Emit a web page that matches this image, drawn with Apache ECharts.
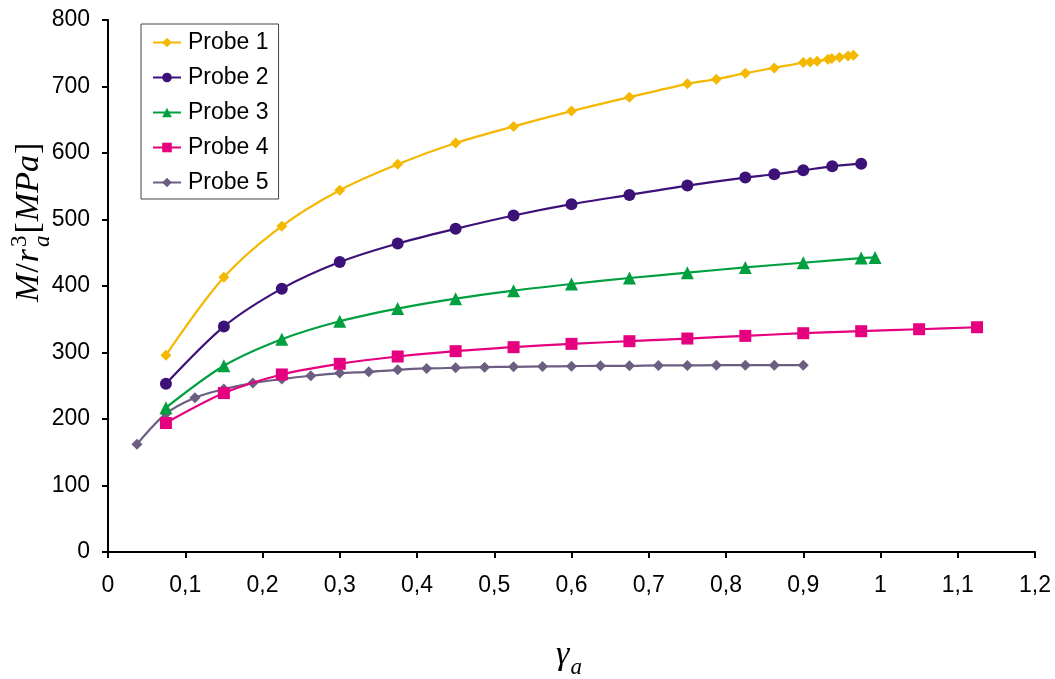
<!DOCTYPE html>
<html>
<head>
<meta charset="utf-8">
<script src="https://cdn.jsdelivr.net/npm/echarts@6/dist/echarts.min.js"></script>
<style>html,body{margin:0;padding:0;background:#fff}#c{width:1055px;height:679px}</style>
</head>
<body>
<div id="c"></div>
<script>
// Data
const seriesNames = ['Probe 1', 'Probe 2', 'Probe 3', 'Probe 4', 'Probe 5'];
const probe1X = [0.075, 0.15, 0.225, 0.3, 0.375, 0.45, 0.525, 0.6, 0.675, 0.75, 0.7875, 0.825, 0.8625, 0.9, 0.909, 0.918, 0.932, 0.937, 0.947, 0.958, 0.965];
const probe1Y = [296, 413, 490, 544, 583, 615, 640, 663, 684, 704, 711, 720, 728, 736, 737, 738, 741, 742, 744, 746, 747];
const probe2X = [0.075, 0.15, 0.225, 0.3, 0.375, 0.45, 0.525, 0.6, 0.675, 0.75, 0.825, 0.8625, 0.9, 0.9375, 0.975];
const probe2Y = [253, 339, 396, 436, 464, 486, 506, 523, 537, 551, 563, 568, 574, 580, 584];
const probe3X = [0.075, 0.15, 0.225, 0.3, 0.375, 0.45, 0.525, 0.6, 0.675, 0.75, 0.825, 0.9, 0.975, 0.993];
const probe3Y = [217, 280, 320, 347, 366, 381, 393, 403, 412, 420, 428, 435, 442, 443];
const probe4X = [0.075, 0.15, 0.225, 0.3, 0.375, 0.45, 0.525, 0.6, 0.675, 0.75, 0.825, 0.9, 0.975, 1.05, 1.125];
const probe4Y = [194, 239, 267, 283, 294, 302, 308, 313, 317, 321, 325, 329, 332, 335, 338];
const probe5X = [0.0375, 0.075, 0.1125, 0.15, 0.1875, 0.225, 0.2625, 0.3, 0.3375, 0.375, 0.4125, 0.45, 0.4875, 0.525, 0.5625, 0.6, 0.6375, 0.675, 0.7125, 0.75, 0.7875, 0.825, 0.8625, 0.9];
const probe5Y = [162, 208, 232, 245, 254, 260, 265, 269, 271, 274, 276, 277, 278, 278.5, 279, 279.5, 280, 280, 280.5, 280.5, 281, 281, 281, 281];
const xTicks = { min: 0, max: 1.2, interval: 0.1 };
const yTicks = { min: 0, max: 800, interval: 100 };

const colors = ['#F5B800', '#3D1278', '#00A040', '#E4007F', '#6B5E80'];
const symbols = ['diamond', 'circle', 'triangle', 'rect', 'diamond'];
const symbolSizes = [11, 12, 13, 12, 11];
const xs = [probe1X, probe2X, probe3X, probe4X, probe5X];
const ys = [probe1Y, probe2Y, probe3Y, probe4Y, probe5Y];

const chart = echarts.init(document.getElementById('c'), null, { renderer: 'canvas' });
const font = '"Liberation Sans", Arial, sans-serif';
const fmt = v => String(+(+v).toFixed(1)).replace('.', ',');

// text measurement helper for composing math-style labels
const mctx = document.createElement('canvas').getContext('2d');
function tw(text, f) { mctx.font = f; return mctx.measureText(text).width; }
const serifI = 'italic 34px "Liberation Serif", "DejaVu Serif", serif';
const serifR = '34px "Liberation Serif", "DejaVu Serif", serif';
const smallI = 'italic 23px "Liberation Serif", serif';
const smallR = '23px "Liberation Serif", serif';

function buildPieces(parts) {
  let x = 0; const out = [];
  parts.forEach(p => {
    out.push({ type: 'text', x: x + (p.dx || 0), y: p.dy || 0, style: { text: p.t, font: p.f, fill: '#000', textVerticalAlign: 'bottom' } });
    if (p.adv !== false) x += tw(p.t, p.f) + (p.gap || 0);
  });
  return out;
}
const yNameParts = [
  { t: 'M', f: serifI, gap: 1 },
  { t: '/', f: serifR, gap: 1 },
  { t: 'r', f: serifI, gap: 2 },
  { t: '3', f: smallR, dy: -15, adv: false },
  { t: 'a', f: smallI, dy: 8, gap: 2 },
  { t: '[', f: serifR, gap: 1 },
  { t: 'MPa', f: serifI, gap: 1 },
  { t: ']', f: serifR }
];
const xNameParts = [
  { t: 'γ', f: serifI, gap: 1 },
  { t: 'a', f: smallI, dy: 7 }
];

const option = {
  animation: false,
  backgroundColor: '#fff',
  grid: { left: 108, right: 20, top: 20, bottom: 127, containLabel: false },
  legend: {
    orient: 'vertical', left: 141, top: 24,
    data: seriesNames,
    borderColor: '#444', borderWidth: 1,
    padding: [7, 10, 5, 11],
    itemGap: 12, itemWidth: 28, itemHeight: 12,
    textStyle: { fontFamily: font, fontSize: 23, color: '#000', padding: [0, 0, 0, 2] }
  },
  xAxis: {
    type: 'value', min: xTicks.min, max: xTicks.max, interval: xTicks.interval,
    axisLine: { show: true, onZero: false, lineStyle: { color: '#000', width: 2 } },
    axisTick: { show: true, inside: false, length: 6, lineStyle: { color: '#000', width: 2 } },
    axisLabel: { formatter: fmt, color: '#000', fontFamily: font, fontSize: 23, margin: 22 },
    splitLine: { show: false }
  },
  yAxis: {
    type: 'value', min: yTicks.min, max: yTicks.max, interval: yTicks.interval,
    axisLine: { show: true, lineStyle: { color: '#000', width: 2 } },
    axisTick: { show: true, inside: false, length: 6, lineStyle: { color: '#000', width: 2 } },
    axisLabel: { color: '#000', fontFamily: font, fontSize: 23, margin: 18 },
    splitLine: { show: false }
  },
  series: seriesNames.map((n, i) => ({
    name: n, type: 'line', smooth: 0.3,
    data: xs[i].map((x, j) => [x, ys[i][j]]),
    symbol: symbols[i], symbolSize: symbolSizes[i], showSymbol: true,
    itemStyle: { color: colors[i] },
    lineStyle: { color: colors[i], width: 2.2 },
    z: 10 - i
  })),
  graphic: [
    { type: 'group', x: 46, y: 302, rotation: Math.PI / 2, children: buildPieces(yNameParts) },
    { type: 'group', x: 556, y: 672, children: buildPieces(xNameParts) }
  ]
};
chart.setOption(option);
</script>
</body>
</html>
